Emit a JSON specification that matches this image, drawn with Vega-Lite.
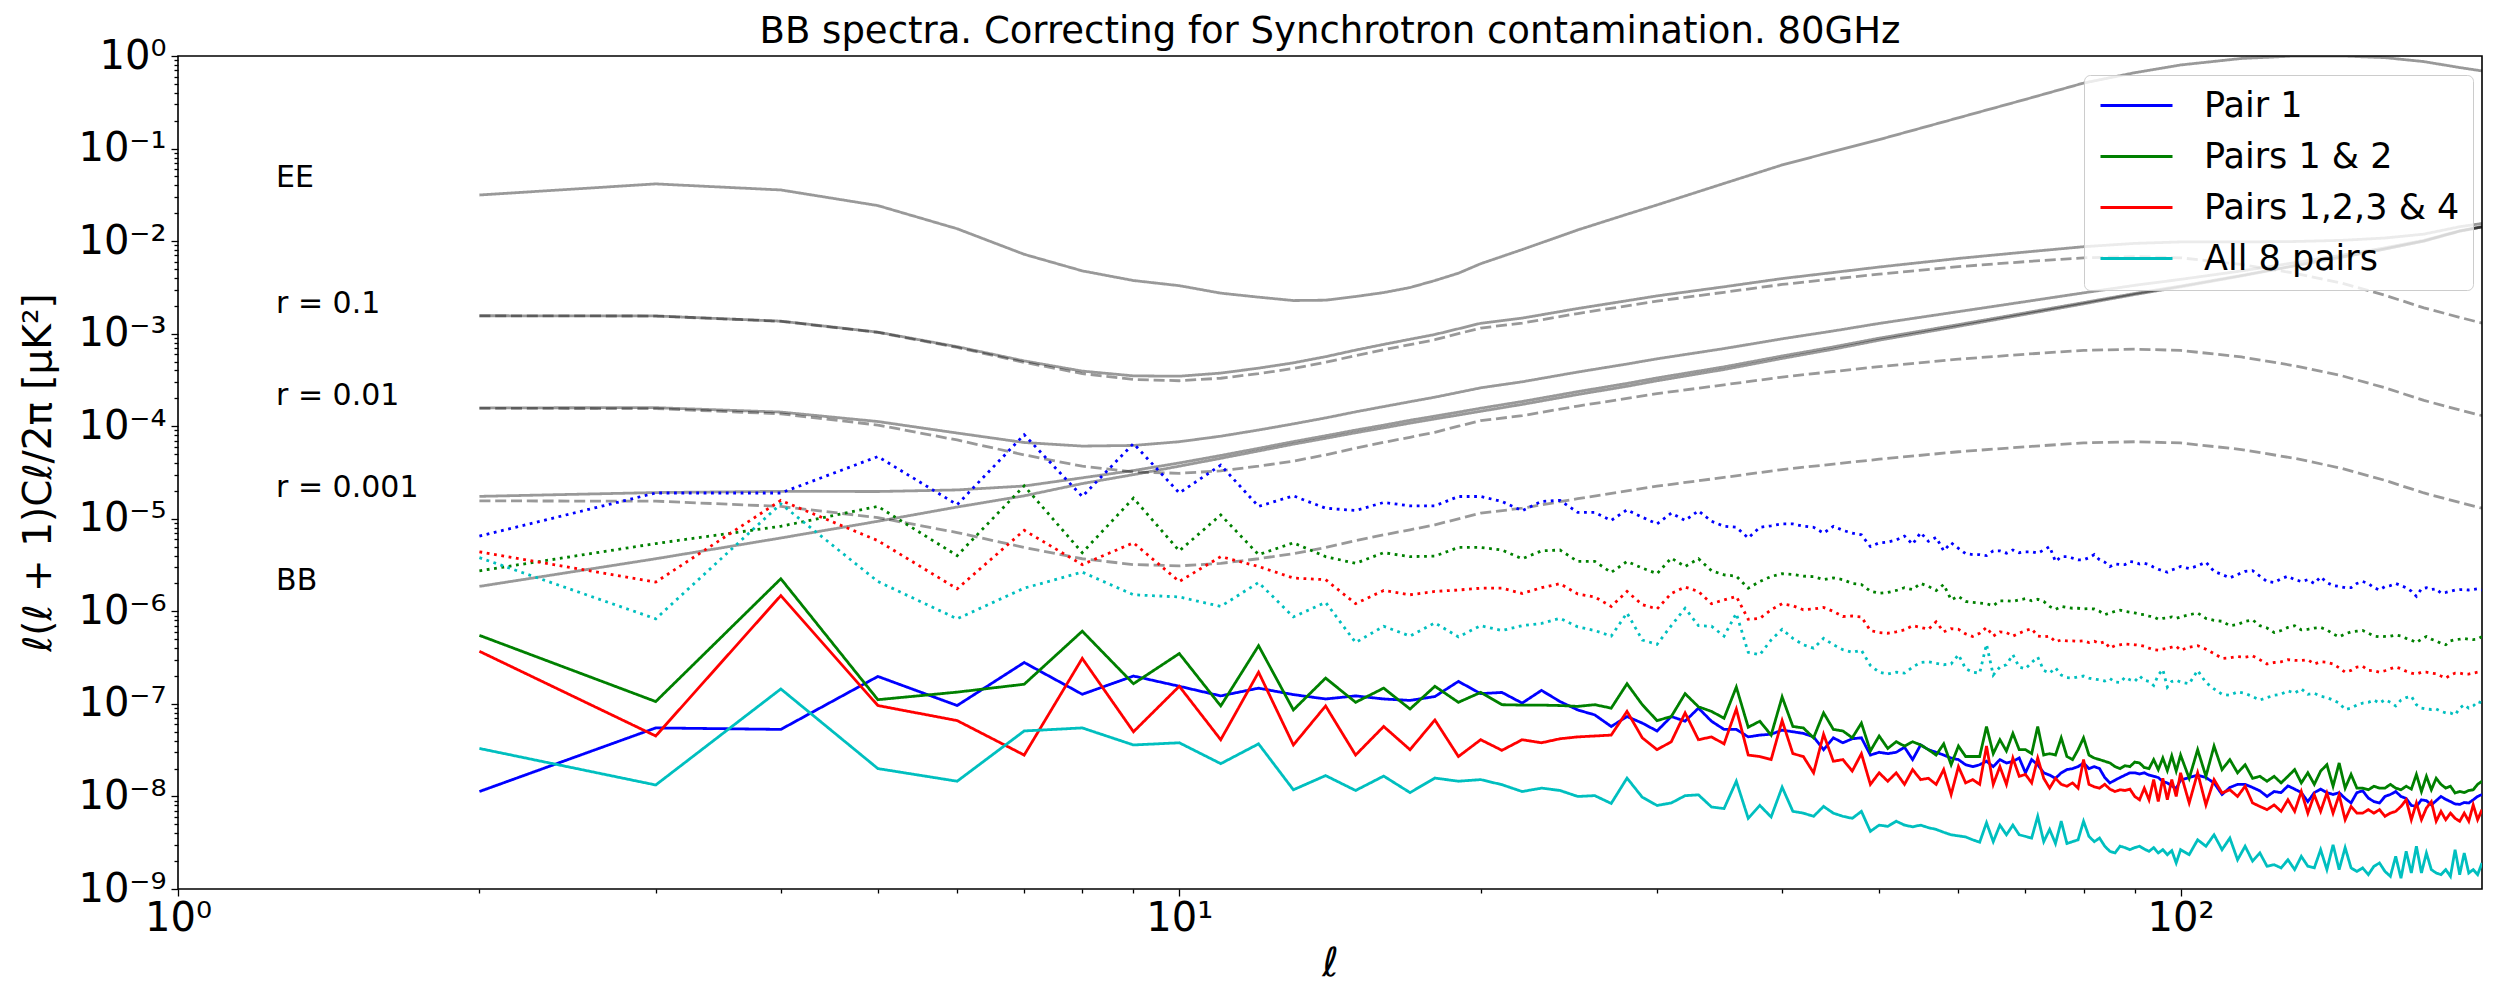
{
  "$schema": "https://vega.github.io/schema/vega-lite/v6.json",
  "width": 2304,
  "height": 833,
  "autosize": {"type": "none"},
  "padding": {"left": 178, "top": 56, "right": 18, "bottom": 111},
  "background": "white",
  "title": {
    "text": "BB spectra. Correcting for Synchrotron contamination. 80GHz",
    "font": "DejaVu Sans",
    "fontSize": 37,
    "fontWeight": "normal",
    "color": "black",
    "anchor": "middle",
    "baseline": "alphabetic",
    "offset": 8,
    "dy": 52
  },
  "config": {
    "font": "DejaVu Sans",
    "view": {"stroke": "black", "strokeWidth": 1.6},
    "axis": {
      "domain": false,
      "grid": false,
      "tickColor": "black",
      "tickWidth": 1.3,
      "labelColor": "black",
      "titleColor": "black",
      "labelFont": "DejaVu Sans",
      "titleFont": "DejaVu Sans",
      "labelFontSize": 40,
      "titleFontWeight": "normal",
      "labelFlush": false,
      "labelOverlap": false
    }
  },
  "datasets": {
    "theory": [
      {"l": 2, "ee": 0.0315, "s1": 0.001562, "s01": 0.0001579, "s001": 1.746e-5, "lens": 1.86e-6, "d1": 0.00156, "d01": 0.000156, "d001": 1.56e-5},
      {"l": 3, "ee": 0.0415, "s1": 0.001554, "s01": 0.0001587, "s001": 1.92e-5, "lens": 3.7e-6, "d1": 0.00155, "d01": 0.000155, "d001": 1.55e-5},
      {"l": 4, "ee": 0.0357, "s1": 0.001366, "s01": 0.0001422, "s001": 1.98e-5, "lens": 6.2e-6, "d1": 0.00136, "d01": 0.000136, "d001": 1.36e-5},
      {"l": 5, "ee": 0.0242, "s1": 0.001039, "s01": 0.0001124, "s001": 1.97e-5, "lens": 9.4e-6, "d1": 0.00103, "d01": 0.000103, "d001": 1.03e-5},
      {"l": 6, "ee": 0.0136, "s1": 0.000723, "s01": 8.44e-5, "s001": 2.05e-5, "lens": 1.34e-5, "d1": 0.00071, "d01": 7.1e-5, "d001": 7.1e-6},
      {"l": 7, "ee": 0.0072, "s1": 0.000508, "s01": 6.67e-5, "s001": 2.26e-5, "lens": 1.77e-5, "d1": 0.00049, "d01": 4.9e-5, "d001": 4.9e-6},
      {"l": 8, "ee": 0.00477, "s1": 0.000394, "s01": 6.1e-5, "s001": 2.77e-5, "lens": 2.4e-5, "d1": 0.00037, "d01": 3.7e-5, "d001": 3.7e-6},
      {"l": 9, "ee": 0.00375, "s1": 0.00035, "s01": 6.2e-5, "s001": 3.32e-5, "lens": 3.0e-5, "d1": 0.00032, "d01": 3.2e-5, "d001": 3.2e-6},
      {"l": 10, "ee": 0.0033, "s1": 0.000347, "s01": 6.8e-5, "s001": 4.01e-5, "lens": 3.7e-5, "d1": 0.00031, "d01": 3.1e-5, "d001": 3.1e-6},
      {"l": 11, "ee": 0.00274, "s1": 0.000375, "s01": 7.8e-5, "s001": 4.83e-5, "lens": 4.5e-5, "d1": 0.00033, "d01": 3.3e-5, "d001": 3.3e-6},
      {"l": 12, "ee": 0.00248, "s1": 0.000424, "s01": 9.1e-5, "s001": 5.77e-5, "lens": 5.4e-5, "d1": 0.00037, "d01": 3.7e-5, "d001": 3.7e-6},
      {"l": 13, "ee": 0.00228, "s1": 0.000484, "s01": 0.000106, "s001": 6.82e-5, "lens": 6.4e-5, "d1": 0.00042, "d01": 4.2e-5, "d001": 4.2e-6},
      {"l": 14, "ee": 0.0023, "s1": 0.000564, "s01": 0.000123, "s001": 7.89e-5, "lens": 7.4e-5, "d1": 0.00049, "d01": 4.9e-5, "d001": 4.9e-6},
      {"l": 15, "ee": 0.00252, "s1": 0.000665, "s01": 0.000143, "s001": 9.08e-5, "lens": 8.5e-5, "d1": 0.00058, "d01": 5.8e-5, "d001": 5.8e-6},
      {"l": 16, "ee": 0.00278, "s1": 0.000766, "s01": 0.000163, "s001": 0.0001027, "lens": 9.6e-5, "d1": 0.00067, "d01": 6.7e-5, "d001": 6.7e-6},
      {"l": 17, "ee": 0.00315, "s1": 0.00087, "s01": 0.000184, "s001": 0.000116, "lens": 0.000108, "d1": 0.00076, "d01": 7.6e-5, "d001": 7.6e-6},
      {"l": 18, "ee": 0.00375, "s1": 0.00098, "s01": 0.000206, "s001": 0.0001286, "lens": 0.00012, "d1": 0.00086, "d01": 8.6e-5, "d001": 8.6e-6},
      {"l": 19, "ee": 0.0045, "s1": 0.00113, "s01": 0.000232, "s001": 0.000142, "lens": 0.000132, "d1": 0.001, "d01": 0.0001, "d001": 1.0e-5},
      {"l": 20, "ee": 0.0057, "s1": 0.001295, "s01": 0.00026, "s001": 0.0001565, "lens": 0.000145, "d1": 0.00115, "d01": 0.000115, "d001": 1.15e-5},
      {"l": 22, "ee": 0.0081, "s1": 0.001472, "s01": 0.000302, "s001": 0.000185, "lens": 0.000172, "d1": 0.0013, "d01": 0.00013, "d001": 1.3e-5},
      {"l": 25, "ee": 0.0132, "s1": 0.00187, "s01": 0.000385, "s001": 0.0002365, "lens": 0.00022, "d1": 0.00165, "d01": 0.000165, "d001": 1.65e-5},
      {"l": 28, "ee": 0.0195, "s1": 0.00227, "s01": 0.00047, "s001": 0.00029, "lens": 0.00027, "d1": 0.002, "d01": 0.0002, "d001": 2.0e-5},
      {"l": 30, "ee": 0.0246, "s1": 0.00256, "s01": 0.000535, "s001": 0.0003325, "lens": 0.00031, "d1": 0.00225, "d01": 0.000225, "d001": 2.25e-5},
      {"l": 35, "ee": 0.042, "s1": 0.00321, "s01": 0.00069, "s001": 0.000438, "lens": 0.00041, "d1": 0.0028, "d01": 0.00028, "d001": 2.8e-5},
      {"l": 40, "ee": 0.0665, "s1": 0.00394, "s01": 0.00088, "s001": 0.000574, "lens": 0.00054, "d1": 0.0034, "d01": 0.00034, "d001": 3.4e-5},
      {"l": 45, "ee": 0.093, "s1": 0.00458, "s01": 0.00107, "s001": 0.000719, "lens": 0.00068, "d1": 0.0039, "d01": 0.00039, "d001": 3.9e-5},
      {"l": 50, "ee": 0.125, "s1": 0.00525, "s01": 0.00129, "s001": 0.000894, "lens": 0.00085, "d1": 0.0044, "d01": 0.00044, "d001": 4.4e-5},
      {"l": 60, "ee": 0.215, "s1": 0.0065, "s01": 0.00173, "s001": 0.001253, "lens": 0.0012, "d1": 0.0053, "d01": 0.00053, "d001": 5.3e-5},
      {"l": 70, "ee": 0.34, "s1": 0.00762, "s01": 0.00222, "s001": 0.00168, "lens": 0.00162, "d1": 0.006, "d01": 0.0006, "d001": 6.0e-5},
      {"l": 80, "ee": 0.51, "s1": 0.0087, "s01": 0.00276, "s001": 0.002166, "lens": 0.0021, "d1": 0.0066, "d01": 0.00066, "d001": 6.6e-5},
      {"l": 90, "ee": 0.66, "s1": 0.00945, "s01": 0.00333, "s001": 0.002718, "lens": 0.00265, "d1": 0.0068, "d01": 0.00068, "d001": 6.8e-5},
      {"l": 100, "ee": 0.8, "s1": 0.0098, "s01": 0.00386, "s001": 0.003266, "lens": 0.0032, "d1": 0.0066, "d01": 0.00066, "d001": 6.6e-5},
      {"l": 115, "ee": 0.94, "s1": 0.0098, "s01": 0.00476, "s001": 0.004256, "lens": 0.0042, "d1": 0.0056, "d01": 0.00056, "d001": 5.6e-5},
      {"l": 130, "ee": 1.0, "s1": 0.0099, "s01": 0.00585, "s001": 0.005445, "lens": 0.0054, "d1": 0.0045, "d01": 0.00045, "d001": 4.5e-5},
      {"l": 145, "ee": 1.0, "s1": 0.0102, "s01": 0.00705, "s001": 0.006735, "lens": 0.0067, "d1": 0.0035, "d01": 0.00035, "d001": 3.5e-5},
      {"l": 160, "ee": 0.96, "s1": 0.0108, "s01": 0.00846, "s001": 0.008226, "lens": 0.0082, "d1": 0.0026, "d01": 0.00026, "d001": 2.6e-5},
      {"l": 175, "ee": 0.87, "s1": 0.0119, "s01": 0.01019, "s001": 0.010019, "lens": 0.01, "d1": 0.0019, "d01": 0.00019, "d001": 1.9e-5},
      {"l": 190, "ee": 0.75, "s1": 0.0143, "s01": 0.01295, "s001": 0.012815, "lens": 0.0128, "d1": 0.0015, "d01": 0.00015, "d001": 1.5e-5},
      {"l": 200, "ee": 0.69, "s1": 0.0155, "s01": 0.01433, "s001": 0.014213, "lens": 0.0142, "d1": 0.0013, "d01": 0.00013, "d001": 1.3e-5}
    ],
    "spectra": [
      {"l": 2, "a": 1.13e-8, "b": 5.5e-7, "c": 3.7e-7, "d": 3.3e-8, "e": 6.5e-6, "f": 2.74e-6, "g": 4.4e-6, "h": 3.8e-6},
      {"l": 3, "a": 5.5e-8, "b": 1.06e-7, "c": 4.5e-8, "d": 1.33e-8, "e": 1.9e-5, "f": 5.4e-6, "g": 2.07e-6, "h": 8.3e-7},
      {"l": 4, "a": 5.3e-8, "b": 2.25e-6, "c": 1.48e-6, "d": 1.45e-7, "e": 1.9e-5, "f": 8.3e-6, "g": 1.58e-5, "h": 1.45e-5},
      {"l": 5, "a": 1.98e-7, "b": 1.11e-7, "c": 9.6e-8, "d": 2.0e-8, "e": 4.7e-5, "f": 1.36e-5, "g": 5.8e-6, "h": 2.1e-6},
      {"l": 6, "a": 9.6e-8, "b": 1.34e-7, "c": 6.6e-8, "d": 1.46e-8, "e": 1.42e-5, "f": 4.0e-6, "g": 1.75e-6, "h": 8.3e-7},
      {"l": 7, "a": 2.8e-7, "b": 1.63e-7, "c": 2.8e-8, "d": 5.1e-8, "e": 8.1e-5, "f": 2.27e-5, "g": 7.5e-6, "h": 1.78e-6},
      {"l": 8, "a": 1.27e-7, "b": 6.1e-7, "c": 3.1e-7, "d": 5.5e-8, "e": 1.74e-5, "f": 4.3e-6, "g": 3.2e-6, "h": 2.65e-6},
      {"l": 9, "a": 2.0e-7, "b": 1.65e-7, "c": 5.0e-8, "d": 3.6e-8, "e": 6.5e-5, "f": 1.67e-5, "g": 5.5e-6, "h": 1.51e-6},
      {"l": 10, "a": 1.55e-7, "b": 3.5e-7, "c": 1.55e-7, "d": 3.8e-8, "e": 1.9e-5, "f": 4.5e-6, "g": 2.1e-6, "h": 1.43e-6},
      {"l": 11, "a": 1.22e-7, "b": 9.5e-8, "c": 4.1e-8, "d": 2.26e-8, "e": 3.8e-5, "f": 1.1e-5, "g": 3.9e-6, "h": 1.13e-6},
      {"l": 12, "a": 1.48e-7, "b": 4.25e-7, "c": 2.2e-7, "d": 3.7e-8, "e": 1.36e-5, "f": 4.1e-6, "g": 3.05e-6, "h": 2.05e-6},
      {"l": 13, "a": 1.26e-7, "b": 8.6e-8, "c": 3.6e-8, "d": 1.18e-8, "e": 1.77e-5, "f": 5.5e-6, "g": 2.29e-6, "h": 8.7e-7},
      {"l": 14, "a": 1.13e-7, "b": 1.9e-7, "c": 9.5e-8, "d": 1.68e-8, "e": 1.3e-5, "f": 3.9e-6, "g": 2.2e-6, "h": 1.25e-6},
      {"l": 15, "a": 1.22e-7, "b": 1.04e-7, "c": 2.8e-8, "d": 1.16e-8, "e": 1.23e-5, "f": 3.3e-6, "g": 1.21e-6, "h": 4.6e-7},
      {"l": 16, "a": 1.13e-7, "b": 1.48e-7, "c": 5.7e-8, "d": 1.66e-8, "e": 1.5e-5, "f": 4.3e-6, "g": 1.68e-6, "h": 6.9e-7},
      {"l": 17, "a": 1.09e-7, "b": 8.8e-8, "c": 3.2e-8, "d": 1.1e-8, "e": 1.38e-5, "f": 3.9e-6, "g": 1.51e-6, "h": 5.4e-7},
      {"l": 18, "a": 1.2e-7, "b": 1.55e-7, "c": 6.7e-8, "d": 1.58e-8, "e": 1.38e-5, "f": 3.95e-6, "g": 1.64e-6, "h": 7.5e-7},
      {"l": 19, "a": 1.75e-7, "b": 1.04e-7, "c": 2.7e-8, "d": 1.46e-8, "e": 1.74e-5, "f": 4.9e-6, "g": 1.7e-6, "h": 5.3e-7},
      {"l": 20, "a": 1.29e-7, "b": 1.33e-7, "c": 4.1e-8, "d": 1.52e-8, "e": 1.74e-5, "f": 4.9e-6, "g": 1.78e-6, "h": 7.0e-7},
      {"l": 21, "a": 1.33e-7, "b": 9.8e-8, "c": 3.15e-8, "d": 1.34e-8, "e": 1.54e-5, "f": 4.6e-6, "g": 1.78e-6, "h": 6.2e-7},
      {"l": 22, "a": 1.02e-7, "b": 9.7e-8, "c": 4.1e-8, "d": 1.13e-8, "e": 1.22e-5, "f": 3.7e-6, "g": 1.56e-6, "h": 7.0e-7},
      {"l": 23, "a": 1.4e-7, "b": 9.7e-8, "c": 3.8e-8, "d": 1.23e-8, "e": 1.54e-5, "f": 4.5e-6, "g": 1.8e-6, "h": 7.4e-7},
      {"l": 24, "a": 1.06e-7, "b": 9.6e-8, "c": 4.2e-8, "d": 1.16e-8, "e": 1.58e-5, "f": 4.6e-6, "g": 1.99e-6, "h": 8.4e-7},
      {"l": 25, "a": 8.6e-8, "b": 9.4e-8, "c": 4.4e-8, "d": 1.0e-8, "e": 1.17e-5, "f": 3.46e-6, "g": 1.54e-6, "h": 6.8e-7},
      {"l": 26, "a": 7.6e-8, "b": 9.8e-8, "c": 4.5e-8, "d": 1.02e-8, "e": 1.17e-5, "f": 3.46e-6, "g": 1.43e-6, "h": 6.2e-7},
      {"l": 27, "a": 5.7e-8, "b": 9.0e-8, "c": 4.6e-8, "d": 8.4e-9, "e": 9.6e-6, "f": 2.63e-6, "g": 1.13e-6, "h": 5.4e-7},
      {"l": 28, "a": 7.3e-8, "b": 1.65e-7, "c": 8.3e-8, "d": 1.58e-8, "e": 1.25e-5, "f": 3.46e-6, "g": 1.64e-6, "h": 9.6e-7},
      {"l": 29, "a": 6.2e-8, "b": 9.8e-8, "c": 4.3e-8, "d": 9.8e-9, "e": 1.04e-5, "f": 2.93e-6, "g": 1.18e-6, "h": 4.9e-7},
      {"l": 30, "a": 5.1e-8, "b": 6.6e-8, "c": 3.2e-8, "d": 8.0e-9, "e": 8.8e-6, "f": 2.55e-6, "g": 1.06e-6, "h": 4.4e-7},
      {"l": 31, "a": 7.3e-8, "b": 7.3e-8, "c": 3.9e-8, "d": 8.5e-9, "e": 1.15e-5, "f": 3.76e-6, "g": 1.56e-6, "h": 7.0e-7},
      {"l": 32, "a": 6.5e-8, "b": 1.29e-7, "c": 8.0e-8, "d": 1.02e-8, "e": 9.6e-6, "f": 3.05e-6, "g": 1.83e-6, "h": 1.08e-6},
      {"l": 33, "a": 9.0e-8, "b": 9.3e-8, "c": 4.1e-8, "d": 1.04e-8, "e": 1.22e-5, "f": 3.7e-6, "g": 1.64e-6, "h": 7.0e-7},
      {"l": 34, "a": 6.5e-8, "b": 8.3e-8, "c": 4.4e-8, "d": 7.7e-9, "e": 9.4e-6, "f": 2.75e-6, "g": 1.21e-6, "h": 6.9e-7},
      {"l": 35, "a": 5.3e-8, "b": 7.0e-8, "c": 3.7e-8, "d": 7.4e-9, "e": 8.3e-6, "f": 2.48e-6, "g": 1.33e-6, "h": 5.4e-7},
      {"l": 36, "a": 5.3e-8, "b": 1.52e-7, "c": 8.8e-8, "d": 1.46e-8, "e": 8.1e-6, "f": 2.4e-6, "g": 1.45e-6, "h": 9.5e-7},
      {"l": 37, "a": 4.4e-8, "b": 5.6e-8, "c": 2.8e-8, "d": 5.8e-9, "e": 6.2e-6, "f": 1.78e-6, "g": 8.2e-7, "h": 3.6e-7},
      {"l": 38, "a": 4.6e-8, "b": 6.5e-8, "c": 2.7e-8, "d": 8.0e-9, "e": 8.1e-6, "f": 2.1e-6, "g": 8.4e-7, "h": 3.4e-7},
      {"l": 39, "a": 4.7e-8, "b": 4.6e-8, "c": 2.5e-8, "d": 6.0e-9, "e": 8.4e-6, "f": 2.38e-6, "g": 1.04e-6, "h": 4.9e-7},
      {"l": 40, "a": 5.2e-8, "b": 1.19e-7, "c": 6.6e-8, "d": 1.26e-8, "e": 8.8e-6, "f": 2.55e-6, "g": 1.21e-6, "h": 6.4e-7},
      {"l": 41, "a": 5.0e-8, "b": 5.7e-8, "c": 2.9e-8, "d": 6.9e-9, "e": 8.8e-6, "f": 2.5e-6, "g": 1.15e-6, "h": 5.1e-7},
      {"l": 42, "a": 4.8e-8, "b": 5.5e-8, "c": 2.7e-8, "d": 6.6e-9, "e": 8.3e-6, "f": 2.4e-6, "g": 1.04e-6, "h": 4.35e-7},
      {"l": 43, "a": 4.4e-8, "b": 4.3e-8, "c": 1.8e-8, "d": 6.1e-9, "e": 8.1e-6, "f": 2.37e-6, "g": 1.06e-6, "h": 4.0e-7},
      {"l": 44, "a": 3.2e-8, "b": 8.0e-8, "c": 4.7e-8, "d": 7.8e-9, "e": 7.0e-6, "f": 2.2e-6, "g": 1.1e-6, "h": 5.1e-7},
      {"l": 45, "a": 4.3e-8, "b": 5.3e-8, "c": 2.4e-8, "d": 6.6e-9, "e": 8.3e-6, "f": 2.3e-6, "g": 1.0e-6, "h": 4.35e-7},
      {"l": 46, "a": 3.8e-8, "b": 5.1e-8, "c": 2.5e-8, "d": 6.1e-9, "e": 7.5e-6, "f": 2.2e-6, "g": 8.8e-7, "h": 3.85e-7},
      {"l": 47, "a": 4.2e-8, "b": 4.3e-8, "c": 1.88e-8, "d": 5.8e-9, "e": 7.0e-6, "f": 2.0e-6, "g": 8.9e-7, "h": 3.6e-7},
      {"l": 48, "a": 4.3e-8, "b": 6.2e-8, "c": 2.9e-8, "d": 6.9e-9, "e": 6.7e-6, "f": 1.95e-6, "g": 8.7e-7, "h": 3.8e-7},
      {"l": 49, "a": 2.8e-8, "b": 3.1e-8, "c": 1.35e-8, "d": 4.2e-9, "e": 5.0e-6, "f": 1.65e-6, "g": 6.2e-7, "h": 2.6e-7},
      {"l": 50, "a": 3.0e-8, "b": 4.5e-8, "c": 1.8e-8, "d": 4.9e-9, "e": 5.5e-6, "f": 1.57e-6, "g": 5.9e-7, "h": 2.2e-7},
      {"l": 51, "a": 2.9e-8, "b": 3.3e-8, "c": 1.46e-8, "d": 4.75e-9, "e": 5.6e-6, "f": 1.6e-6, "g": 5.8e-7, "h": 2.1e-7},
      {"l": 52, "a": 3.0e-8, "b": 3.9e-8, "c": 1.8e-8, "d": 5.4e-9, "e": 5.9e-6, "f": 1.68e-6, "g": 6.0e-7, "h": 2.2e-7},
      {"l": 53, "a": 3.4e-8, "b": 3.5e-8, "c": 1.35e-8, "d": 4.9e-9, "e": 6.5e-6, "f": 1.8e-6, "g": 6.3e-7, "h": 2.15e-7},
      {"l": 54, "a": 2.5e-8, "b": 3.9e-8, "c": 1.95e-8, "d": 4.7e-9, "e": 5.3e-6, "f": 1.72e-6, "g": 7.0e-7, "h": 2.5e-7},
      {"l": 55, "a": 3.6e-8, "b": 3.6e-8, "c": 1.52e-8, "d": 4.9e-9, "e": 7.1e-6, "f": 2.0e-6, "g": 6.7e-7, "h": 2.8e-7},
      {"l": 56, "a": 3.2e-8, "b": 3.2e-8, "c": 1.57e-8, "d": 4.6e-9, "e": 5.7e-6, "f": 1.86e-6, "g": 6.4e-7, "h": 2.85e-7},
      {"l": 57, "a": 3.0e-8, "b": 2.8e-8, "c": 1.35e-8, "d": 4.4e-9, "e": 6.3e-6, "f": 1.68e-6, "g": 7.7e-7, "h": 2.75e-7},
      {"l": 58, "a": 2.8e-8, "b": 3.7e-8, "c": 1.95e-8, "d": 4.1e-9, "e": 4.5e-6, "f": 1.95e-6, "g": 6.0e-7, "h": 2.65e-7},
      {"l": 59, "a": 2.6e-8, "b": 2.2e-8, "c": 1.05e-8, "d": 3.85e-9, "e": 5.5e-6, "f": 1.33e-6, "g": 6.5e-7, "h": 2.7e-7},
      {"l": 60, "a": 2.5e-8, "b": 3.5e-8, "c": 2.1e-8, "d": 3.75e-9, "e": 4.8e-6, "f": 1.45e-6, "g": 6.4e-7, "h": 3.4e-7},
      {"l": 61, "a": 2.2e-8, "b": 2.7e-8, "c": 1.4e-8, "d": 3.65e-9, "e": 4.2e-6, "f": 1.28e-6, "g": 5.7e-7, "h": 2.4e-7},
      {"l": 62, "a": 2.1e-8, "b": 2.7e-8, "c": 1.52e-8, "d": 3.4e-9, "e": 4.1e-6, "f": 1.25e-6, "g": 5.35e-7, "h": 2.2e-7},
      {"l": 63, "a": 2.2e-8, "b": 2.7e-8, "c": 1.35e-8, "d": 3.2e-9, "e": 4.1e-6, "f": 1.23e-6, "g": 5.8e-7, "h": 2.15e-7},
      {"l": 64, "a": 2.4e-8, "b": 5.7e-8, "c": 3.5e-8, "d": 5.2e-9, "e": 4.0e-6, "f": 1.21e-6, "g": 6.7e-7, "h": 4.4e-7},
      {"l": 65, "a": 2.1e-8, "b": 2.9e-8, "c": 1.35e-8, "d": 3.25e-9, "e": 4.5e-6, "f": 1.15e-6, "g": 5.4e-7, "h": 2.05e-7},
      {"l": 66, "a": 2.5e-8, "b": 4.1e-8, "c": 2.1e-8, "d": 4.9e-9, "e": 4.5e-6, "f": 1.3e-6, "g": 6.0e-7, "h": 2.5e-7},
      {"l": 67, "a": 2.3e-8, "b": 3.1e-8, "c": 1.35e-8, "d": 3.85e-9, "e": 4.25e-6, "f": 1.3e-6, "g": 5.9e-7, "h": 2.65e-7},
      {"l": 68, "a": 2.4e-8, "b": 4.8e-8, "c": 2.6e-8, "d": 4.9e-9, "e": 4.6e-6, "f": 1.28e-6, "g": 5.4e-7, "h": 3.4e-7},
      {"l": 69, "a": 2.6e-8, "b": 3.2e-8, "c": 1.65e-8, "d": 3.85e-9, "e": 4.3e-6, "f": 1.33e-6, "g": 5.8e-7, "h": 2.5e-7},
      {"l": 70, "a": 1.8e-8, "b": 3.2e-8, "c": 1.73e-8, "d": 3.7e-9, "e": 4.4e-6, "f": 1.37e-6, "g": 6.2e-7, "h": 2.4e-7},
      {"l": 71, "a": 2.5e-8, "b": 2.9e-8, "c": 1.4e-8, "d": 3.55e-9, "e": 4.4e-6, "f": 1.3e-6, "g": 6.5e-7, "h": 2.8e-7},
      {"l": 72, "a": 2.2e-8, "b": 5.7e-8, "c": 2.6e-8, "d": 6.1e-9, "e": 4.25e-6, "f": 1.35e-6, "g": 5.4e-7, "h": 3.2e-7},
      {"l": 73, "a": 1.8e-8, "b": 2.8e-8, "c": 1.57e-8, "d": 3.25e-9, "e": 4.6e-6, "f": 1.28e-6, "g": 5.3e-7, "h": 2.3e-7},
      {"l": 74, "a": 1.7e-8, "b": 2.9e-8, "c": 1.23e-8, "d": 4.4e-9, "e": 5.0e-6, "f": 1.13e-6, "g": 5.4e-7, "h": 2.15e-7},
      {"l": 75, "a": 1.57e-8, "b": 2.8e-8, "c": 1.57e-8, "d": 3.1e-9, "e": 3.45e-6, "f": 1.05e-6, "g": 4.7e-7, "h": 2.45e-7},
      {"l": 76, "a": 1.8e-8, "b": 4.3e-8, "c": 1.35e-8, "d": 5.4e-9, "e": 3.9e-6, "f": 1.13e-6, "g": 4.9e-7, "h": 2.05e-7},
      {"l": 77, "a": 1.95e-8, "b": 2.7e-8, "c": 1.29e-8, "d": 3.1e-9, "e": 3.9e-6, "f": 1.1e-6, "g": 4.8e-7, "h": 1.92e-7},
      {"l": 78, "a": 2.0e-8, "b": 2.5e-8, "c": 1.4e-8, "d": 3.25e-9, "e": 3.75e-6, "f": 1.08e-6, "g": 4.8e-7, "h": 1.9e-7},
      {"l": 79, "a": 2.1e-8, "b": 3.2e-8, "c": 1.23e-8, "d": 3.4e-9, "e": 3.6e-6, "f": 1.08e-6, "g": 4.75e-7, "h": 1.96e-7},
      {"l": 80, "a": 2.3e-8, "b": 4.3e-8, "c": 2.5e-8, "d": 5.4e-9, "e": 3.6e-6, "f": 1.06e-6, "g": 4.8e-7, "h": 2.0e-7},
      {"l": 81, "a": 2.0e-8, "b": 2.8e-8, "c": 1.35e-8, "d": 3.7e-9, "e": 3.8e-6, "f": 1.07e-6, "g": 4.6e-7, "h": 1.9e-7},
      {"l": 82, "a": 2.1e-8, "b": 2.6e-8, "c": 1.27e-8, "d": 3.25e-9, "e": 4.1e-6, "f": 1.06e-6, "g": 4.75e-7, "h": 1.85e-7},
      {"l": 83, "a": 2.0e-8, "b": 2.5e-8, "c": 1.23e-8, "d": 3.55e-9, "e": 3.6e-6, "f": 1.0e-6, "g": 4.5e-7, "h": 1.82e-7},
      {"l": 84, "a": 1.6e-8, "b": 2.4e-8, "c": 1.35e-8, "d": 2.9e-9, "e": 3.4e-6, "f": 9.2e-7, "g": 4.7e-7, "h": 1.77e-7},
      {"l": 85, "a": 1.4e-8, "b": 2.3e-8, "c": 1.2e-8, "d": 2.55e-9, "e": 3.05e-6, "f": 9.6e-7, "g": 4.0e-7, "h": 1.88e-7},
      {"l": 86, "a": 1.5e-8, "b": 2.1e-8, "c": 1.13e-8, "d": 2.45e-9, "e": 3.25e-6, "f": 1.0e-6, "g": 4.25e-7, "h": 1.72e-7},
      {"l": 87, "a": 1.6e-8, "b": 2.0e-8, "c": 1.18e-8, "d": 2.9e-9, "e": 3.2e-6, "f": 1.03e-6, "g": 4.35e-7, "h": 1.7e-7},
      {"l": 88, "a": 1.7e-8, "b": 2.15e-8, "c": 1.16e-8, "d": 2.8e-9, "e": 3.2e-6, "f": 1.0e-6, "g": 4.45e-7, "h": 1.94e-7},
      {"l": 89, "a": 1.8e-8, "b": 2.1e-8, "c": 1.2e-8, "d": 2.66e-9, "e": 3.45e-6, "f": 9.8e-7, "g": 4.4e-7, "h": 1.82e-7},
      {"l": 90, "a": 1.8e-8, "b": 2.35e-8, "c": 1.0e-8, "d": 2.8e-9, "e": 3.4e-6, "f": 9.6e-7, "g": 4.35e-7, "h": 1.75e-7},
      {"l": 91, "a": 1.75e-8, "b": 2.3e-8, "c": 9.2e-9, "d": 2.9e-9, "e": 3.25e-6, "f": 9.3e-7, "g": 4.3e-7, "h": 2.0e-7},
      {"l": 92, "a": 1.8e-8, "b": 2.05e-8, "c": 1.23e-8, "d": 2.7e-9, "e": 3.3e-6, "f": 9.2e-7, "g": 4.2e-7, "h": 1.8e-7},
      {"l": 93, "a": 1.7e-8, "b": 2.0e-8, "c": 9.2e-9, "d": 2.55e-9, "e": 3.2e-6, "f": 8.9e-7, "g": 4.0e-7, "h": 1.75e-7},
      {"l": 94, "a": 1.65e-8, "b": 2.5e-8, "c": 1.52e-8, "d": 2.8e-9, "e": 3.0e-6, "f": 8.7e-7, "g": 3.85e-7, "h": 1.58e-7},
      {"l": 95, "a": 1.6e-8, "b": 1.95e-8, "c": 8.8e-9, "d": 2.45e-9, "e": 2.85e-6, "f": 8.2e-7, "g": 3.8e-7, "h": 2.05e-7},
      {"l": 96, "a": 1.45e-8, "b": 2.6e-8, "c": 1.57e-8, "d": 2.66e-9, "e": 2.75e-6, "f": 8.4e-7, "g": 3.9e-7, "h": 2.35e-7},
      {"l": 97, "a": 1.4e-8, "b": 1.9e-8, "c": 9.2e-9, "d": 2.35e-9, "e": 2.65e-6, "f": 8.5e-7, "g": 4.0e-7, "h": 1.52e-7},
      {"l": 98, "a": 1.3e-8, "b": 2.75e-8, "c": 1.52e-8, "d": 2.6e-9, "e": 2.8e-6, "f": 8.7e-7, "g": 4.1e-7, "h": 1.75e-7},
      {"l": 99, "a": 1.22e-8, "b": 1.88e-8, "c": 1.0e-8, "d": 1.91e-9, "e": 2.9e-6, "f": 8.4e-7, "g": 4.2e-7, "h": 1.8e-7},
      {"l": 100, "a": 1.5e-8, "b": 2.8e-8, "c": 1.8e-8, "d": 2.66e-9, "e": 3.05e-6, "f": 8.7e-7, "g": 3.8e-7, "h": 1.72e-7},
      {"l": 102, "a": 1.6e-8, "b": 1.57e-8, "c": 8.5e-9, "d": 2.35e-9, "e": 2.9e-6, "f": 9.2e-7, "g": 4.1e-7, "h": 1.65e-7},
      {"l": 104, "a": 1.7e-8, "b": 3.2e-8, "c": 1.8e-8, "d": 3.4e-9, "e": 3.1e-6, "f": 9.6e-7, "g": 4.25e-7, "h": 2.3e-7},
      {"l": 106, "a": 1.6e-8, "b": 1.65e-8, "c": 8.1e-9, "d": 2.9e-9, "e": 3.4e-6, "f": 8.4e-7, "g": 3.9e-7, "h": 1.7e-7},
      {"l": 108, "a": 1.4e-8, "b": 3.5e-8, "c": 1.52e-8, "d": 3.85e-9, "e": 2.7e-6, "f": 8.0e-7, "g": 3.5e-7, "h": 1.45e-7},
      {"l": 110, "a": 1.05e-8, "b": 1.95e-8, "c": 1.09e-8, "d": 2.66e-9, "e": 2.5e-6, "f": 7.8e-7, "g": 3.1e-7, "h": 1.27e-7},
      {"l": 112, "a": 1.25e-8, "b": 2.5e-8, "c": 1.18e-8, "d": 3.55e-9, "e": 2.3e-6, "f": 7.0e-7, "g": 3.15e-7, "h": 1.24e-7},
      {"l": 114, "a": 1.35e-8, "b": 1.8e-8, "c": 1.0e-8, "d": 2.07e-9, "e": 2.5e-6, "f": 7.2e-7, "g": 3.25e-7, "h": 1.35e-7},
      {"l": 116, "a": 1.35e-8, "b": 2.2e-8, "c": 1.29e-8, "d": 2.9e-9, "e": 2.7e-6, "f": 7.8e-7, "g": 3.2e-7, "h": 1.3e-7},
      {"l": 118, "a": 1.25e-8, "b": 1.57e-8, "c": 8.5e-9, "d": 2.0e-9, "e": 2.75e-6, "f": 8.1e-7, "g": 3.3e-7, "h": 1.2e-7},
      {"l": 120, "a": 1.15e-8, "b": 1.65e-8, "c": 7.8e-9, "d": 2.45e-9, "e": 2.4e-6, "f": 7.0e-7, "g": 3.0e-7, "h": 1.1e-7},
      {"l": 122, "a": 1.0e-8, "b": 1.46e-8, "c": 7.2e-9, "d": 1.76e-9, "e": 2.1e-6, "f": 6.6e-7, "g": 2.7e-7, "h": 1.17e-7},
      {"l": 124, "a": 1.13e-8, "b": 1.65e-8, "c": 8.1e-9, "d": 1.83e-9, "e": 2.05e-6, "f": 5.9e-7, "g": 2.8e-7, "h": 1.24e-7},
      {"l": 126, "a": 1.1e-8, "b": 1.4e-8, "c": 6.9e-9, "d": 1.69e-9, "e": 2.25e-6, "f": 6.2e-7, "g": 2.85e-7, "h": 1.27e-7},
      {"l": 128, "a": 1.3e-8, "b": 1.65e-8, "c": 9.2e-9, "d": 2.07e-9, "e": 2.4e-6, "f": 6.7e-7, "g": 3.0e-7, "h": 1.38e-7},
      {"l": 130, "a": 1.2e-8, "b": 1.95e-8, "c": 6.9e-9, "d": 1.62e-9, "e": 2.2e-6, "f": 7.0e-7, "g": 2.95e-7, "h": 1.31e-7},
      {"l": 132, "a": 1.1e-8, "b": 1.4e-8, "c": 1.13e-8, "d": 2.25e-9, "e": 2.1e-6, "f": 6.3e-7, "g": 2.95e-7, "h": 1.45e-7},
      {"l": 134, "a": 8.8e-9, "b": 1.8e-8, "c": 6.6e-9, "d": 1.76e-9, "e": 2.2e-6, "f": 6.4e-7, "g": 3.0e-7, "h": 1.27e-7},
      {"l": 136, "a": 1.1e-8, "b": 1.35e-8, "c": 1.04e-8, "d": 1.69e-9, "e": 2.0e-6, "f": 6.6e-7, "g": 2.7e-7, "h": 1.3e-7},
      {"l": 138, "a": 1.2e-8, "b": 1.88e-8, "c": 6.9e-9, "d": 2.66e-9, "e": 2.35e-6, "f": 6.7e-7, "g": 2.85e-7, "h": 1.21e-7},
      {"l": 140, "a": 1.1e-8, "b": 2.2e-8, "c": 1.09e-8, "d": 1.62e-9, "e": 2.05e-6, "f": 6.3e-7, "g": 2.82e-7, "h": 1.17e-7},
      {"l": 142, "a": 1.05e-8, "b": 1.29e-8, "c": 6.6e-9, "d": 3.0e-9, "e": 1.9e-6, "f": 5.7e-7, "g": 2.7e-7, "h": 1.1e-7},
      {"l": 144, "a": 1.1e-8, "b": 2.3e-8, "c": 1.04e-8, "d": 1.62e-9, "e": 1.86e-6, "f": 5.3e-7, "g": 2.45e-7, "h": 1.02e-7},
      {"l": 146, "a": 9.5e-9, "b": 1.23e-8, "c": 5.6e-9, "d": 2.8e-9, "e": 1.8e-6, "f": 5.7e-7, "g": 2.2e-7, "h": 8.7e-8},
      {"l": 148, "a": 8.5e-9, "b": 1.73e-8, "c": 7.8e-9, "d": 1.69e-9, "e": 1.8e-6, "f": 6.0e-7, "g": 2.3e-7, "h": 9.0e-8},
      {"l": 150, "a": 1.1e-8, "b": 1.23e-8, "c": 6.6e-9, "d": 1.55e-9, "e": 2.0e-6, "f": 6.1e-7, "g": 2.5e-7, "h": 9.7e-8},
      {"l": 152, "a": 1.15e-8, "b": 1.23e-8, "c": 6.6e-9, "d": 1.69e-9, "e": 2.1e-6, "f": 6.2e-7, "g": 2.55e-7, "h": 1.02e-7},
      {"l": 154, "a": 9.6e-9, "b": 1.18e-8, "c": 7.2e-9, "d": 1.43e-9, "e": 2.0e-6, "f": 5.8e-7, "g": 2.3e-7, "h": 1.04e-7},
      {"l": 156, "a": 8.8e-9, "b": 1.29e-8, "c": 6.6e-9, "d": 1.76e-9, "e": 1.8e-6, "f": 5.4e-7, "g": 2.28e-7, "h": 1.1e-7},
      {"l": 158, "a": 8.5e-9, "b": 1.23e-8, "c": 7.2e-9, "d": 1.91e-9, "e": 1.7e-6, "f": 5.3e-7, "g": 2.2e-7, "h": 1.02e-7},
      {"l": 160, "a": 1.0e-8, "b": 1.23e-8, "c": 6.1e-9, "d": 1.55e-9, "e": 1.85e-6, "f": 5.35e-7, "g": 2.28e-7, "h": 1.11e-7},
      {"l": 162, "a": 1.05e-8, "b": 1.35e-8, "c": 6.6e-9, "d": 1.37e-9, "e": 1.9e-6, "f": 5.4e-7, "g": 2.4e-7, "h": 1.04e-7},
      {"l": 164, "a": 1.13e-8, "b": 1.23e-8, "c": 6.9e-9, "d": 2.25e-9, "e": 2.0e-6, "f": 5.55e-7, "g": 2.5e-7, "h": 9.5e-8},
      {"l": 166, "a": 1.0e-8, "b": 1.18e-8, "c": 7.8e-9, "d": 1.31e-9, "e": 1.9e-6, "f": 5.4e-7, "g": 2.4e-7, "h": 1.1e-7},
      {"l": 168, "a": 9.5e-9, "b": 1.29e-8, "c": 9.2e-9, "d": 2.55e-9, "e": 1.8e-6, "f": 5.1e-7, "g": 2.25e-7, "h": 1.17e-7},
      {"l": 170, "a": 8.0e-9, "b": 1.2e-8, "c": 5.6e-9, "d": 1.49e-9, "e": 1.65e-6, "f": 4.9e-7, "g": 2.15e-7, "h": 1.21e-7},
      {"l": 172, "a": 7.8e-9, "b": 1.73e-8, "c": 8.5e-9, "d": 2.9e-9, "e": 1.45e-6, "f": 4.6e-7, "g": 2.1e-7, "h": 9.8e-8},
      {"l": 174, "a": 9.2e-9, "b": 1.13e-8, "c": 5.6e-9, "d": 1.49e-9, "e": 1.75e-6, "f": 5.0e-7, "g": 2.2e-7, "h": 9.0e-8},
      {"l": 176, "a": 9.0e-9, "b": 1.65e-8, "c": 7.5e-9, "d": 2.45e-9, "e": 1.8e-6, "f": 5.35e-7, "g": 2.2e-7, "h": 8.8e-8},
      {"l": 178, "a": 8.1e-9, "b": 1.18e-8, "c": 8.8e-9, "d": 1.62e-9, "e": 1.72e-6, "f": 5.0e-7, "g": 2.15e-7, "h": 8.7e-8},
      {"l": 180, "a": 9.0e-9, "b": 1.57e-8, "c": 5.4e-9, "d": 1.49e-9, "e": 1.75e-6, "f": 4.8e-7, "g": 2.12e-7, "h": 8.8e-8},
      {"l": 182, "a": 1.0e-8, "b": 1.35e-8, "c": 6.9e-9, "d": 1.43e-9, "e": 1.57e-6, "f": 4.5e-7, "g": 2.0e-7, "h": 8.3e-8},
      {"l": 184, "a": 9.3e-9, "b": 1.23e-8, "c": 5.6e-9, "d": 1.62e-9, "e": 1.6e-6, "f": 4.35e-7, "g": 1.9e-7, "h": 8.0e-8},
      {"l": 186, "a": 8.8e-9, "b": 1.29e-8, "c": 6.6e-9, "d": 1.37e-9, "e": 1.65e-6, "f": 4.8e-7, "g": 2.05e-7, "h": 8.0e-8},
      {"l": 188, "a": 8.3e-9, "b": 1.09e-8, "c": 5.8e-9, "d": 2.66e-9, "e": 1.7e-6, "f": 4.95e-7, "g": 2.15e-7, "h": 7.6e-8},
      {"l": 190, "a": 8.2e-9, "b": 1.13e-8, "c": 5.4e-9, "d": 1.43e-9, "e": 1.72e-6, "f": 5.0e-7, "g": 2.15e-7, "h": 9.0e-8},
      {"l": 192, "a": 8.6e-9, "b": 1.1e-8, "c": 6.6e-9, "d": 2.45e-9, "e": 1.72e-6, "f": 5.1e-7, "g": 2.1e-7, "h": 9.8e-8},
      {"l": 194, "a": 8.5e-9, "b": 1.16e-8, "c": 5.4e-9, "d": 1.49e-9, "e": 1.7e-6, "f": 5.0e-7, "g": 2.1e-7, "h": 9.0e-8},
      {"l": 196, "a": 9.2e-9, "b": 1.18e-8, "c": 8.1e-9, "d": 1.62e-9, "e": 1.72e-6, "f": 4.95e-7, "g": 2.15e-7, "h": 9.5e-8},
      {"l": 198, "a": 1.0e-8, "b": 1.35e-8, "c": 5.6e-9, "d": 1.43e-9, "e": 1.75e-6, "f": 5.0e-7, "g": 2.2e-7, "h": 1.06e-7},
      {"l": 200, "a": 1.05e-8, "b": 1.46e-8, "c": 7.2e-9, "d": 1.91e-9, "e": 1.7e-6, "f": 5.35e-7, "g": 2.22e-7, "h": 1.02e-7}
    ],
    "notes": [
      {"l": 1.253, "v": 0.0385, "label": "EE"},
      {"l": 1.253, "v": 0.00168, "label": "r = 0.1"},
      {"l": 1.253, "v": 0.00017, "label": "r = 0.01"},
      {"l": 1.253, "v": 1.73e-5, "label": "r = 0.001"},
      {"l": 1.253, "v": 1.7e-6, "label": "BB"}
    ]
  },
  "encoding": {
    "x": {
      "field": "l",
      "type": "quantitative",
      "scale": {"type": "log", "domain": [1, 200], "nice": false},
      "axis": {
        "values": [1, 2, 3, 4, 5, 6, 7, 8, 9, 10, 20, 30, 40, 50, 60, 70, 80, 90, 100],
        "labelExpr": "abs(log(datum.value)/LN10 - round(log(datum.value)/LN10)) < 0.01 ? ['10⁰', '10¹', '10²'][round(log(datum.value)/LN10)] : ''",
        "tickSize": {"condition": {"test": "abs(log(datum.value)/LN10 - round(log(datum.value)/LN10)) < 0.01", "value": 7}, "value": 4},
        "labelBaseline": "top",
        "labelPadding": 2,
        "title": "ℓ",
        "titleFontSize": 40,
        "titleX": 1152,
        "titleY": 86,
        "titleAlign": "center",
        "titleBaseline": "alphabetic"
      }
    },
    "y": {
      "field": "v",
      "type": "quantitative",
      "scale": {"type": "log", "domain": [1e-9, 1], "nice": false},
      "axis": {
        "values": [1e-9, 2e-9, 3e-9, 4e-9, 5e-9, 6e-9, 7e-9, 8e-9, 9e-9, 1e-8, 2e-8, 3e-8, 4e-8, 5e-8, 6e-8, 7e-8, 8e-8, 9e-8, 1e-7, 2e-7, 3e-7, 4e-7, 5e-7, 6e-7, 7e-7, 8e-7, 9e-7, 1e-6, 2e-6, 3e-6, 4e-6, 5e-6, 6e-6, 7e-6, 8e-6, 9e-6, 1e-5, 2e-5, 3e-5, 4e-5, 5e-5, 6e-5, 7e-5, 8e-5, 9e-5, 0.0001, 0.0002, 0.0003, 0.0004, 0.0005, 0.0006, 0.0007, 0.0008, 0.0009, 0.001, 0.002, 0.003, 0.004, 0.005, 0.006, 0.007, 0.008, 0.009, 0.01, 0.02, 0.03, 0.04, 0.05, 0.06, 0.07, 0.08, 0.09, 0.1, 0.2, 0.3, 0.4, 0.5, 0.6, 0.7, 0.8, 0.9, 1],
        "labelExpr": "abs(log(datum.value)/LN10 - round(log(datum.value)/LN10)) < 0.01 ? ['10⁰', '10⁻¹', '10⁻²', '10⁻³', '10⁻⁴', '10⁻⁵', '10⁻⁶', '10⁻⁷', '10⁻⁸', '10⁻⁹'][-round(log(datum.value)/LN10)] : ''",
        "tickSize": {"condition": {"test": "abs(log(datum.value)/LN10 - round(log(datum.value)/LN10)) < 0.01", "value": 7}, "value": 4},
        "labelPadding": 5,
        "title": "ℓ(ℓ + 1)Cℓ/2π [μK²]",
        "titleFontSize": 39,
        "titleX": -140,
        "titleY": 416,
        "titleAngle": 270,
        "titleAlign": "center",
        "titleBaseline": "middle"
      }
    }
  },
  "layer": [
    {
      "data": {"name": "theory"},
      "transform": [
        {"fold": ["ee", "s1", "s01", "s001", "lens", "d1", "d01", "d001"], "as": ["k", "v"]},
        {
          "lookup": "k",
          "from": {
            "data": {
              "values": [
                {"k": "ee", "style": "solid"},
                {"k": "s1", "style": "solid"},
                {"k": "s01", "style": "solid"},
                {"k": "s001", "style": "solid"},
                {"k": "lens", "style": "solid"},
                {"k": "d1", "style": "dashed"},
                {"k": "d01", "style": "dashed"},
                {"k": "d001", "style": "dashed"}
              ]
            },
            "key": "k",
            "fields": ["style"]
          }
        }
      ],
      "mark": {"type": "line", "color": "black", "strokeOpacity": 0.4, "strokeWidth": 2.8, "clip": true},
      "encoding": {
        "detail": {"field": "k", "type": "nominal"},
        "strokeDash": {
          "field": "style",
          "type": "nominal",
          "scale": {"domain": ["solid", "dashed", "dotted"], "range": [[1, 0], [11, 4.8], [2.8, 4.6]]},
          "legend": null
        }
      }
    },
    {
      "data": {"name": "spectra"},
      "transform": [
        {"fold": ["a", "b", "c", "d", "e", "f", "g", "h"], "as": ["k", "v"]},
        {
          "lookup": "k",
          "from": {
            "data": {
              "values": [
                {"k": "a", "series": "Pair 1", "style": "solid"},
                {"k": "b", "series": "Pairs 1 & 2", "style": "solid"},
                {"k": "c", "series": "Pairs 1,2,3 & 4", "style": "solid"},
                {"k": "d", "series": "All 8 pairs", "style": "solid"},
                {"k": "e", "series": "Pair 1", "style": "dotted"},
                {"k": "f", "series": "Pairs 1 & 2", "style": "dotted"},
                {"k": "g", "series": "Pairs 1,2,3 & 4", "style": "dotted"},
                {"k": "h", "series": "All 8 pairs", "style": "dotted"}
              ]
            },
            "key": "k",
            "fields": ["series", "style"]
          }
        }
      ],
      "mark": {"type": "line", "strokeWidth": 2.8, "clip": true},
      "encoding": {
        "detail": {"field": "k", "type": "nominal"},
        "color": {
          "field": "series",
          "type": "nominal",
          "scale": {
            "domain": ["Pair 1", "Pairs 1 & 2", "Pairs 1,2,3 & 4", "All 8 pairs"],
            "range": ["#0000ff", "#008000", "#ff0000", "#00bfbf"]
          },
          "legend": {
            "title": null,
            "orient": "none",
            "legendX": 1906,
            "legendY": 19,
            "symbolType": "M-3,0L3,0",
            "symbolSize": 576,
            "symbolStrokeWidth": 3,
            "symbolOffset": 22,
            "labelFont": "DejaVu Sans",
            "labelFontSize": 35,
            "labelColor": "black",
            "labelOffset": 50,
            "labelLimit": 500,
            "rowPadding": 15,
            "padding": 13,
            "fillColor": "rgba(255,255,255,0.8)",
            "strokeColor": "#cccccc",
            "cornerRadius": 6
          }
        },
        "strokeDash": {
          "field": "style",
          "type": "nominal",
          "scale": {"domain": ["solid", "dashed", "dotted"], "range": [[1, 0], [11, 4.8], [2.8, 4.6]]},
          "legend": null
        }
      }
    },
    {
      "data": {"name": "notes"},
      "mark": {"type": "text", "align": "left", "baseline": "alphabetic", "font": "DejaVu Sans", "fontSize": 30, "color": "black"},
      "encoding": {
        "text": {"field": "label", "type": "nominal"}
      }
    }
  ]
}
